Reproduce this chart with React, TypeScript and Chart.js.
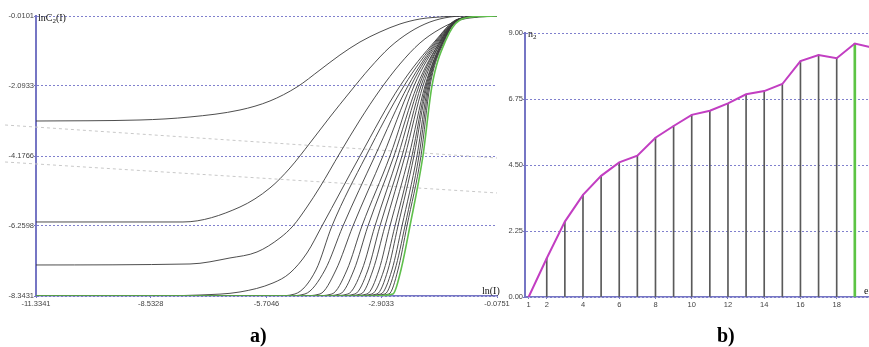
import React, { useEffect, useRef } from 'react';
import { Chart, registerables } from 'chart.js';
Chart.register(...registerables);

// ---------- panel a) : correlation integrals lnC2(I) vs ln(I) ----------
const lnITicks = [-11.3341, -8.5328, -5.7046, -2.9033, -0.0751];
const lnITickLabels = ['-11.3341', '-8.5328', '-5.7046', '-2.9033', '-0.0751'];
const lnC2Ticks = [-8.3431, -6.2598, -4.1766, -2.0933, -0.0101];
const lnC2TickLabels = ['-8.3431', '-6.2598', '-4.1766', '-2.0933', '-0.0101'];

// [ln(I), lnC2(I)], one curve per embedding dimension
const C2_m1 = [[-11.3341, -3.135], [-8.794, -3.105], [-7.573, -3.015], [-6.352, -2.807], [-5.62, -2.539], [-4.96, -2.123], [-4.399, -1.617], [-3.911, -1.171], [-3.422, -0.784], [-2.934, -0.486], [-2.445, -0.248], [-1.957, -0.099], [-1.469, -0.04], [-0.98, -0.0101], [-0.0751, -0.0101]];
const C2_m2 = [[-11.3341, -6.14], [-7.744, -6.14], [-6.352, -5.694], [-5.62, -5.128], [-5.131, -4.533], [-4.643, -3.789], [-4.155, -3.016], [-3.666, -2.272], [-3.178, -1.557], [-2.69, -0.935], [-2.201, -0.486], [-1.713, -0.189], [-1.224, -0.04], [-0.736, -0.0101], [-0.0751, -0.0101]];
const C2_m3 = [[-11.3341, -7.42], [-7.573, -7.39], [-6.597, -7.211], [-5.937, -7.033], [-5.376, -6.616], [-5.058, -6.259], [-4.716, -5.694], [-4.399, -5.099], [-3.911, -4.087], [-3.422, -3.105], [-2.934, -2.212], [-2.445, -1.438], [-1.957, -0.814], [-1.469, -0.397], [-0.98, -0.129], [-0.492, -0.04], [-0.0751, -0.0101]];
const C2_m4 = [[-11.3341, -8.3431], [-8.55, -8.3431], [-7.329, -8.313], [-6.352, -8.223], [-5.546, -7.955], [-5.131, -7.658], [-4.716, -7.063], [-4.35, -6.2598], [-3.422, -4.1766], [-2.445, -2.0933], [-1.566, -0.724], [-1.078, -0.129], [-0.54, -0.025], [-0.0751, -0.0101]];
const C2_m5 = [[-11.3341, -8.3431], [-5.5, -8.3431], [-5.009, -8.283], [-4.496, -7.568], [-4.106, -6.2598], [-3.275, -4.1766], [-2.348, -2.0933], [-1.542, -0.724], [-1.078, -0.129], [-0.54, -0.025], [-0.0751, -0.0101]];
const C2_m6 = [[-11.3341, -8.3431], [-5.25, -8.3431], [-4.765, -8.283], [-4.277, -7.568], [-3.837, -6.2598], [-3.056, -4.1766], [-2.25, -2.0933], [-1.517, -0.724], [-1.053, -0.129], [-0.54, -0.025], [-0.0751, -0.0101]];
const C2_m7 = [[-11.3341, -8.3431], [-4.89, -8.3431], [-4.399, -8.283], [-4.008, -7.568], [-3.593, -6.2598], [-2.86, -4.1766], [-2.177, -2.0933], [-1.493, -0.724], [-1.053, -0.129], [-0.54, -0.025], [-0.0751, -0.0101]];
const C2_m8 = [[-11.3341, -8.3431], [-4.6, -8.3431], [-4.106, -8.283], [-3.739, -7.568], [-3.373, -6.2598], [-2.689, -4.1766], [-2.103, -2.0933], [-1.468, -0.724], [-1.053, -0.129], [-0.54, -0.025], [-0.0751, -0.0101]];
const C2_m9 = [[-11.3341, -8.3431], [-4.4, -8.3431], [-3.91, -8.283], [-3.568, -7.568], [-3.227, -6.2598], [-2.592, -4.1766], [-2.03, -2.0933], [-1.444, -0.724], [-1.053, -0.129], [-0.54, -0.025], [-0.0751, -0.0101]];
const C2_m10 = [[-11.3341, -8.3431], [-4.2, -8.3431], [-3.715, -8.283], [-3.373, -7.568], [-3.056, -6.2598], [-2.494, -4.1766], [-1.981, -2.0933], [-1.444, -0.724], [-1.053, -0.129], [-0.54, -0.025], [-0.0751, -0.0101]];
const C2_m11 = [[-11.3341, -8.3431], [-4.03, -8.3431], [-3.544, -8.283], [-3.227, -7.568], [-2.934, -6.2598], [-2.396, -4.1766], [-1.932, -2.0933], [-1.42, -0.724], [-1.029, -0.129], [-0.54, -0.025], [-0.0751, -0.0101]];
const C2_m12 = [[-11.3341, -8.3431], [-3.89, -8.3431], [-3.397, -8.283], [-3.104, -7.568], [-2.811, -6.2598], [-2.323, -4.1766], [-1.884, -2.0933], [-1.42, -0.724], [-1.029, -0.129], [-0.54, -0.025], [-0.0751, -0.0101]];
const C2_m13 = [[-11.3341, -8.3431], [-3.74, -8.3431], [-3.251, -8.283], [-2.958, -7.568], [-2.689, -6.2598], [-2.225, -4.1766], [-1.835, -2.0933], [-1.395, -0.724], [-1.029, -0.129], [-0.54, -0.025], [-0.0751, -0.0101]];
const C2_m14 = [[-11.3341, -8.3431], [-3.62, -8.3431], [-3.129, -8.283], [-2.836, -7.568], [-2.567, -6.2598], [-2.152, -4.1766], [-1.81, -2.0933], [-1.395, -0.724], [-1.029, -0.129], [-0.54, -0.025], [-0.0751, -0.0101]];
const C2_m15 = [[-11.3341, -8.3431], [-3.5, -8.3431], [-3.007, -8.283], [-2.738, -7.568], [-2.494, -6.2598], [-2.103, -4.1766], [-1.786, -2.0933], [-1.371, -0.724], [-1.029, -0.129], [-0.54, -0.025], [-0.0751, -0.0101]];
const C2_m16 = [[-11.3341, -8.3431], [-3.4, -8.3431], [-2.909, -8.283], [-2.641, -7.568], [-2.396, -6.2598], [-2.03, -4.1766], [-1.761, -2.0933], [-1.371, -0.724], [-1.029, -0.129], [-0.54, -0.025], [-0.0751, -0.0101]];
const C2_m17 = [[-11.3341, -8.3431], [-3.3, -8.3431], [-2.811, -8.283], [-2.567, -7.568], [-2.323, -6.2598], [-1.981, -4.1766], [-1.737, -2.0933], [-1.371, -0.724], [-1.029, -0.129], [-0.54, -0.025], [-0.0751, -0.0101]];
const C2_m18 = [[-11.3341, -8.3431], [-3.2, -8.3431], [-2.714, -8.283], [-2.494, -7.568], [-2.274, -6.2598], [-1.932, -4.1766], [-1.713, -2.0933], [-1.346, -0.724], [-1.029, -0.129], [-0.54, -0.025], [-0.0751, -0.0101]];
const C2_m19 = [[-11.3341, -8.3431], [-3.1, -8.3431], [-2.616, -8.283], [-2.421, -7.568], [-2.201, -6.2598], [-1.884, -4.1766], [-1.664, -2.0933], [-1.322, -0.724], [-0.98, -0.129], [-0.54, -0.025], [-0.0751, -0.0101]];

// faint dashed guide lines crossing panel a)
const guideA = [[-12.09, -3.254], [-0.0751, -4.236]];
const guideB = [[-12.09, -4.355], [-0.0751, -5.277]];

// ---------- panel b) : n2 vs embedding dimension ----------
const dims = [1, 2, 3, 4, 5, 6, 7, 8, 9, 10, 11, 12, 13, 14, 15, 16, 17, 18, 19, 20];
const n2Values = [0.0, 1.32, 2.57, 3.48, 4.13, 4.59, 4.82, 5.43, 5.83, 6.21, 6.35, 6.6, 6.91, 7.02, 7.26, 8.04, 8.25, 8.14, 8.64, 8.5];
const selectedDim = 19;
const dimTicks = [1, 2, 4, 6, 8, 10, 12, 14, 16, 18, 20];
const n2Ticks = [0, 2.25, 4.5, 6.75, 9];
const n2TickLabels = ['0.00', '2.25', '4.50', '6.75', '9.00'];

const AXIS = 'rgb(118,118,196)';
const GRID = 'rgb(128,128,205)';
const TICKFONT = { family: 'Liberation Sans', size: 7.5 };
const TICKCOLOR = '#444';

function LeftChart() {
  const ref = useRef<HTMLCanvasElement>(null);
  useEffect(() => {
    const black = [C2_m1, C2_m2, C2_m3, C2_m4, C2_m5, C2_m6, C2_m7, C2_m8, C2_m9, C2_m10, C2_m11, C2_m12, C2_m13, C2_m14, C2_m15, C2_m16, C2_m17, C2_m18];
    const common = { pointRadius: 0, fill: false, cubicInterpolationMode: 'monotone' };
    const chart = new Chart(ref.current!, {
      type: 'line',
      data: {
        datasets: [
          { ...common, data: C2_m19, borderColor: '#5fbf4c', borderWidth: 1.6 },
          ...black.map((d) => ({ ...common, data: d, borderColor: '#3a3a3a', borderWidth: 0.9 })),
          { data: guideA, pointRadius: 0, borderColor: '#c8c8c8', borderWidth: 1, borderDash: [3, 3], clip: false },
          { data: guideB, pointRadius: 0, borderColor: '#c8c8c8', borderWidth: 1, borderDash: [3, 3], clip: false },
        ] as any,
      },
      options: {
        animation: false,
        responsive: false,
        maintainAspectRatio: false,
        layout: { padding: { top: 16, right: 23, left: 0, bottom: 0 } },
        plugins: { legend: { display: false }, tooltip: { enabled: false } },
        scales: {
          x: {
            type: 'linear', min: lnITicks[0], max: lnITicks[lnITicks.length - 1],
            afterBuildTicks: (s: any) => { s.ticks = lnITicks.map((v) => ({ value: v })); },
            afterFit: (s: any) => { s.height = 34; },
            ticks: { callback: (_v: any, i: number) => lnITickLabels[i], font: TICKFONT, color: TICKCOLOR, padding: 1, maxRotation: 0, autoSkip: false },
            grid: { drawOnChartArea: false, tickLength: 2, color: AXIS, tickBorderDash: [] },
            border: { color: AXIS, width: 1.5 },
          },
          y: {
            type: 'linear', min: lnC2Ticks[0], max: lnC2Ticks[lnC2Ticks.length - 1],
            afterBuildTicks: (s: any) => { s.ticks = lnC2Ticks.map((v) => ({ value: v })); },
            afterFit: (s: any) => { s.width = 36; },
            ticks: { callback: (_v: any, i: number) => lnC2TickLabels[i], font: TICKFONT, color: TICKCOLOR, padding: 0, autoSkip: false },
            grid: { color: GRID, lineWidth: 1, tickLength: 2, tickColor: AXIS, tickBorderDash: [] },
            border: { color: AXIS, width: 2, dash: [2, 2] },
          },
        },
      } as any,
    });
    return () => chart.destroy();
  }, []);
  return <canvas ref={ref} width={520} height={330} style={{ position: 'absolute', left: 0, top: 0, width: 520, height: 330 }} />;
}

function RightChart() {
  const ref = useRef<HTMLCanvasElement>(null);
  useEffect(() => {
    const pts = dims.map((d, i) => ({ x: d, y: n2Values[i] }));
    const chart = new Chart(ref.current!, {
      type: 'line',
      data: {
        datasets: [
          { type: 'line', data: pts, borderColor: '#c23ec2', borderWidth: 2, pointRadius: 0, tension: 0, order: 0 },
          { type: 'bar', data: pts.filter((p) => p.x === selectedDim), backgroundColor: '#5cc444', barThickness: 2, grouped: false, order: 1 },
          { type: 'bar', data: pts.filter((p) => p.x !== selectedDim), backgroundColor: '#5a5a5a', barThickness: 1, grouped: false, order: 2 },
        ] as any,
      },
      options: {
        animation: false,
        responsive: false,
        maintainAspectRatio: false,
        layout: { padding: { top: 33, right: 18, left: 0, bottom: 0 } },
        plugins: { legend: { display: false }, tooltip: { enabled: false } },
        scales: {
          x: {
            type: 'linear', min: 0.8, max: 20.5, offset: false,
            afterBuildTicks: (s: any) => { s.ticks = dimTicks.map((v) => ({ value: v })); },
            afterFit: (s: any) => { s.height = 33; },
            ticks: { callback: (v: any) => String(v), font: TICKFONT, color: TICKCOLOR, padding: 1, maxRotation: 0, autoSkip: false },
            grid: { drawOnChartArea: false, offset: false, tickLength: 2, color: AXIS, tickBorderDash: [] },
            border: { color: AXIS, width: 1.5 },
          },
          y: {
            type: 'linear', min: 0, max: 9,
            afterBuildTicks: (s: any) => { s.ticks = n2Ticks.map((v) => ({ value: v })); },
            afterFit: (s: any) => { s.width = 25; },
            ticks: { callback: (_v: any, i: number) => n2TickLabels[i], font: TICKFONT, color: TICKCOLOR, padding: 0, autoSkip: false },
            grid: { color: GRID, lineWidth: 1, tickLength: 2, tickColor: AXIS, tickBorderDash: [] },
            border: { color: AXIS, width: 2, dash: [2, 2] },
          },
        },
      } as any,
    });
    return () => chart.destroy();
  }, []);
  return <canvas ref={ref} width={400} height={330} style={{ position: 'absolute', left: 500, top: 0, width: 400, height: 330 }} />;
}

const serif: React.CSSProperties = { position: 'absolute', fontFamily: '"Liberation Serif", serif', fontSize: 10, color: '#111', lineHeight: '12px', whiteSpace: 'nowrap' };
const subStyle: React.CSSProperties = { fontSize: 7, verticalAlign: '-2px', lineHeight: 0 };
const caption: React.CSSProperties = { position: 'absolute', fontFamily: '"Liberation Serif", serif', fontSize: 20, fontWeight: 'bold', lineHeight: '20px', color: '#000' };

export default function App() {
  return (
    <div style={{ position: 'fixed', left: 0, top: 0, width: 869, height: 347, overflow: 'hidden', background: '#fff' }}>
      <LeftChart />
      <RightChart />
      <div style={{ ...serif, left: 38, top: 12 }}>lnC<sub style={subStyle}>2</sub>(I)</div>
      <div style={{ ...serif, left: 482, top: 285 }}>ln(I)</div>
      <div style={{ ...serif, left: 528, top: 28 }}>n<sub style={subStyle}>2</sub></div>
      <div style={{ ...serif, left: 864, top: 285 }}>e</div>
      <div style={{ ...caption, left: 250, top: 325 }}>a)</div>
      <div style={{ ...caption, left: 717, top: 325 }}>b)</div>
    </div>
  );
}
